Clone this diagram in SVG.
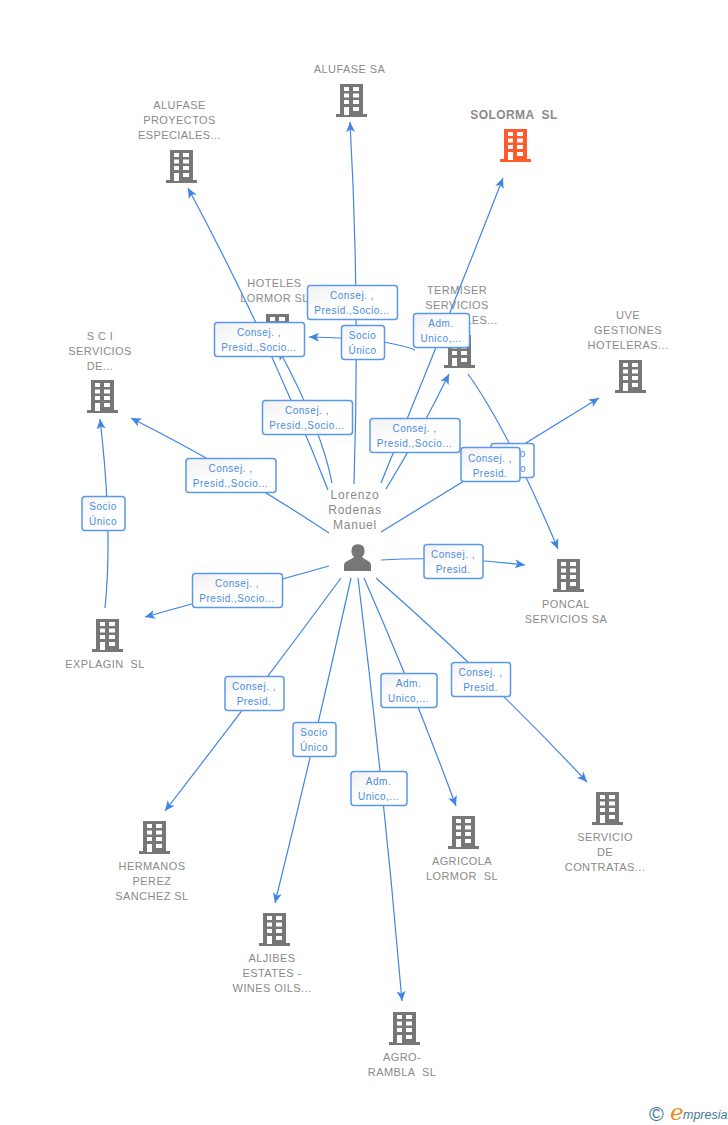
<svg xmlns="http://www.w3.org/2000/svg" width="728" height="1125" viewBox="0 0 728 1125">
<style>
text{font-family:"Liberation Sans",Arial,sans-serif;white-space:pre}
.n{font-size:11px;fill:#8a8a8a;text-anchor:middle;letter-spacing:.42px}
.b{font-size:10px;fill:#4a8be0;text-anchor:middle;letter-spacing:.5px}
.e{fill:none;stroke:#3f85e3;stroke-width:1.2;marker-end:url(#a)}
.l{fill:url(#g);stroke:#5b97ea;stroke-width:1.5}
</style>
<defs>
<linearGradient id="g" x1="0" y1="0" x2="1" y2="1"><stop offset="0" stop-color="#f1f1f1"/><stop offset=".5" stop-color="#fff"/></linearGradient>
<marker id="a" markerUnits="userSpaceOnUse" viewBox="0 0 10 10" refX="10" refY="5" markerWidth="10" markerHeight="10" orient="auto"><path d="M0,0.5L10,5L0,9.500L2.500,5z" fill="#3f85e3"/></marker>
<path id="bd" fill-rule="evenodd" d="M4,1H27V31H31V34H0V31H4ZM8,4V8H13V4ZM17,4V8H23V4ZM8,10.500V14.500H13V10.500ZM17,10.500V14.500H23V10.500ZM8,17V21H13V17ZM17,17V21H23V17ZM8,24V32H13V24ZM17,24V28H23V24Z"/>
</defs>
<g id="node-alufase" fill="#777"><use href="#bd" x="336" y="83"/><text class="n" x="349.500" y="73">ALUFASE SA</text></g>
<g id="node-proyectos" fill="#777"><use href="#bd" x="166" y="149"/><text class="n" x="179.500" y="109">ALUFASE</text><text class="n" x="179.500" y="124">PROYECTOS</text><text class="n" x="179.500" y="139">ESPECIALES...</text></g>
<g id="node-solorma" fill="#ff5a2b"><use href="#bd" x="500" y="128"/><text class="n" style="font-size:12px;font-weight:bold" x="514" y="119">SOLORMA  SL</text></g>
<g id="node-hoteles" fill="#777"><use href="#bd" x="262" y="313"/><text class="n" x="274.500" y="287">HOTELES</text><text class="n" x="274.500" y="302">LORMOR SL</text></g>
<g id="node-termiser" fill="#777"><use href="#bd" x="444" y="334"/><text class="n" x="457" y="294">TERMISER</text><text class="n" x="457" y="309">SERVICIOS</text><text class="n" x="457" y="324">GENERALES...</text></g>
<g id="node-uve" fill="#777"><use href="#bd" x="615" y="359"/><text class="n" x="628" y="319">UVE</text><text class="n" x="628" y="334">GESTIONES</text><text class="n" x="628" y="349">HOTELERAS...</text></g>
<g id="node-sci" fill="#777"><use href="#bd" x="87" y="379"/><text class="n" x="100" y="340">S C I</text><text class="n" x="100" y="355">SERVICIOS</text><text class="n" x="100" y="370">DE...</text></g>
<g id="node-explagin" fill="#777"><use href="#bd" x="92" y="618"/><text class="n" x="105" y="668">EXPLAGIN  SL</text></g>
<g id="node-poncal" fill="#777"><use href="#bd" x="553" y="558"/><text class="n" x="566" y="608">PONCAL</text><text class="n" x="566" y="623">SERVICIOS SA</text></g>
<g id="node-servicio" fill="#777"><use href="#bd" x="592" y="791"/><text class="n" x="605" y="841">SERVICIO</text><text class="n" x="605" y="856">DE</text><text class="n" x="605" y="871">CONTRATAS...</text></g>
<g id="node-agricola" fill="#777"><use href="#bd" x="448" y="815"/><text class="n" x="462" y="865">AGRICOLA</text><text class="n" x="462" y="880">LORMOR  SL</text></g>
<g id="node-hermanos" fill="#777"><use href="#bd" x="139" y="820"/><text class="n" x="152" y="870">HERMANOS</text><text class="n" x="152" y="885">PEREZ</text><text class="n" x="152" y="900">SANCHEZ SL</text></g>
<g id="node-aljibes" fill="#777"><use href="#bd" x="259" y="912"/><text class="n" x="272" y="962">ALJIBES</text><text class="n" x="272" y="977">ESTATES -</text><text class="n" x="272" y="992">WINES OILS...</text></g>
<g id="node-agro" fill="#777"><use href="#bd" x="389" y="1011"/><text class="n" x="402" y="1061">AGRO-</text><text class="n" x="402" y="1076">RAMBLA  SL</text></g>
<g id="node-person" fill="#777"><path d="M344,571V565C344,561 351,560 354,557C351,554 351,551 352,548C353,543 363,543 364,548C365,551 365,554 362,557C365,560 371,561 371,565V571Z"/><text class="n" style="font-size:12px;letter-spacing:.8px" x="355" y="499">Lorenzo</text><text class="n" style="font-size:12px;letter-spacing:.8px" x="355" y="514">Rodenas</text><text class="n" style="font-size:12px;letter-spacing:.8px" x="355" y="529">Manuel</text></g>
<g id="connectors">
<path class="e" d="M354,484Q360,300 350,122"/>
<path class="e" d="M328,490Q269,339 188,188"/>
<path class="e" d="M332,483Q322,430 279,350"/>
<path class="e" d="M386,489Q419,435 449,374"/>
<path class="e" d="M381,483Q443,332 503,178"/>
<path class="e" d="M415,350Q385,338 309,337"/>
<path class="e" d="M468,374Q508,430 558,549"/>
<path class="e" d="M381,532L599,398"/>
<path class="e" d="M381,560Q450,556 525,565"/>
<path class="e" d="M329,533Q234,470 131,418"/>
<path class="e" d="M329,566L145,617"/>
<path class="e" d="M105,608Q113,530 100,419"/>
<path class="e" d="M341,578Q257,692 165,811"/>
<path class="e" d="M351,578Q315,741 275,903"/>
<path class="e" d="M358,578Q384,790 402,1001"/>
<path class="e" d="M364,578Q414,692 456,806"/>
<path class="e" d="M376,578Q492,680 587,782"/>
<g id="l1"><rect class="l" x="307.500" y="285.500" width="90" height="34" rx="3"/><text class="b" x="352" y="299">Consej. ,</text><text class="b" x="352" y="314">Presid.,Socio...</text></g>
<g id="l2"><rect class="l" x="214.500" y="322.500" width="90" height="34" rx="3"/><text class="b" x="259" y="336">Consej. ,</text><text class="b" x="259" y="351">Presid.,Socio...</text></g>
<g id="l3"><rect class="l" x="341.500" y="325.500" width="43" height="34" rx="3"/><text class="b" x="362.500" y="339">Socio</text><text class="b" x="362.500" y="354">Único</text></g>
<g id="l4"><rect class="l" x="413.500" y="313.500" width="56" height="34" rx="3"/><text class="b" x="441" y="327">Adm.</text><text class="b" x="441" y="342">Unico,...</text></g>
<g id="l5"><rect class="l" x="262.500" y="400.500" width="90" height="34" rx="3"/><text class="b" x="307" y="414">Consej. ,</text><text class="b" x="307" y="429">Presid.,Socio...</text></g>
<g id="l6"><rect class="l" x="370" y="418.500" width="90" height="34" rx="3"/><text class="b" x="414.500" y="432">Consej. ,</text><text class="b" x="414.500" y="447">Presid.,Socio...</text></g>
<g id="l7"><rect class="l" x="491" y="443.500" width="43" height="34" rx="3"/><text class="b" x="512" y="457">Socio</text><text class="b" x="512" y="472">Único</text></g>
<g id="l8"><rect class="l" x="461" y="447.500" width="59" height="34" rx="3"/><text class="b" x="490" y="462">Consej. ,</text><text class="b" x="490" y="477">Presid.</text></g>
<g id="l9"><rect class="l" x="186" y="458.500" width="90" height="34" rx="3"/><text class="b" x="230.500" y="472">Consej. ,</text><text class="b" x="230.500" y="487">Presid.,Socio...</text></g>
<g id="l10"><rect class="l" x="82" y="496.500" width="43" height="34" rx="3"/><text class="b" x="103" y="510">Socio</text><text class="b" x="103" y="525">Único</text></g>
<g id="l11"><rect class="l" x="192.500" y="573.500" width="90" height="34" rx="3"/><text class="b" x="237" y="587">Consej. ,</text><text class="b" x="237" y="602">Presid.,Socio...</text></g>
<g id="l12"><rect class="l" x="424" y="544.500" width="59" height="34" rx="3"/><text class="b" x="453" y="558">Consej. ,</text><text class="b" x="453" y="573">Presid.</text></g>
<g id="l13"><rect class="l" x="225" y="676.500" width="59" height="34" rx="3"/><text class="b" x="254" y="690">Consej. ,</text><text class="b" x="254" y="705">Presid.</text></g>
<g id="l14"><rect class="l" x="381" y="673.500" width="56" height="34" rx="3"/><text class="b" x="408.500" y="687">Adm.</text><text class="b" x="408.500" y="702">Unico,...</text></g>
<g id="l15"><rect class="l" x="451.500" y="662.500" width="59" height="34" rx="3"/><text class="b" x="480.500" y="676">Consej. ,</text><text class="b" x="480.500" y="691">Presid.</text></g>
<g id="l16"><rect class="l" x="293" y="722.500" width="43" height="34" rx="3"/><text class="b" x="314" y="736">Socio</text><text class="b" x="314" y="751">Único</text></g>
<g id="l17"><rect class="l" x="351" y="771.500" width="56" height="34" rx="3"/><text class="b" x="378.500" y="785">Adm.</text><text class="b" x="378.500" y="800">Unico,...</text></g>
</g>
<g id="logo"><text x="649" y="1121" style="font-size:20px;fill:#3c7a92">©</text><text x="670" y="1120" style="font-family:'DejaVu Serif',serif;font-size:23px;font-style:italic;fill:#f28a1e">e</text><text x="683" y="1119" style="font-size:12.500px;font-style:italic;fill:#3c7a92">mpresia</text></g>
</svg>
